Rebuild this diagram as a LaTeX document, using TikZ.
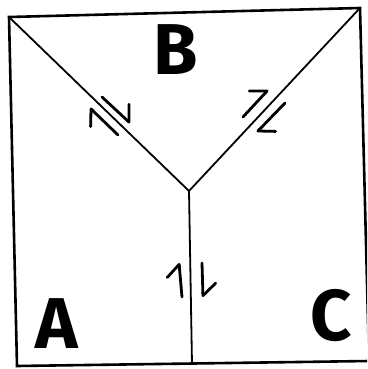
\documentclass[tikz,border=0pt]{standalone}
\usepackage{fontspec}
\setmainfont{Fira Sans}
\usetikzlibrary{arrows.meta,calc}

\begin{document}
\begin{tikzpicture}[
  x=1pt, y=-1pt,
  frame/.style={line width=2.6pt, line join=miter},
  fault/.style={line width=1.8pt},
  harp/.style={line width=2.8pt, line cap=round,
    -{Straight Barb[harpoon, length=12pt, width=26pt, line width=2.8pt, round]}},
  block/.style={font=\fontsize{72}{72}\selectfont\bfseries, inner sep=0pt}
]
  \clip (0,0) rectangle (367,369);

  % Corners of the square and the triple junction
  \coordinate (tl) at (9,17);
  \coordinate (tr) at (360,8);
  \coordinate (br) at (369,361);
  \coordinate (bl) at (17,366);
  \coordinate (mid) at (189,191);
  \coordinate (foot) at (192,364);

  % Frame and faults
  \draw[frame] (bl) -- (tl) -- (tr) -- (br) -- cycle;
  \draw[fault] (tl) -- (mid);
  \draw[fault] (tr) -- (mid);
  \draw[fault] (mid) -- (foot);

  % Blocks
  \node[block] (blockA) at (57,324) {A};
  \node[block] (blockB) at (176,50) {B};
  \node[block] (blockC) at (331,316) {C};

  % Slip sense, left fault
  \draw[harp] (102,97) -- (130,123);
  \draw[harp] (118,135) -- (90,108);

  % Slip sense, right fault
  \draw[harp] (243,117) -- (268,90);
  \draw[harp] (285,103) -- (257,132);

  % Slip sense, vertical fault
  \draw[harp] (182,297) -- (179,263);
  \draw[harp] (202,263) -- (203,297);
\end{tikzpicture}
\end{document}
